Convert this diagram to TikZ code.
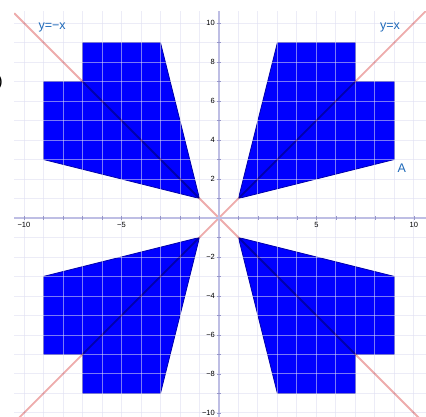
\documentclass[tikz,border=0pt]{standalone}
\usepackage{fontspec}
\setmainfont{Liberation Sans}
\definecolor{gridc}{RGB}{222,222,242}
\definecolor{axisc}{RGB}{190,190,228}
\definecolor{tickc}{RGB}{150,150,200}
\definecolor{labc}{RGB}{30,105,185}
\definecolor{diagc}{RGB}{238,172,172}
\definecolor{fillc}{RGB}{0,0,255}
\definecolor{edgec}{RGB}{0,0,170}
\begin{document}
\begin{tikzpicture}[x=19.5pt,y=19.5pt,
  region/.style={fill=fillc,draw=edgec,line width=0.8pt,line join=miter},
  gridline/.style={draw=gridc,line width=0.9pt,opacity=0.55},
  diagline/.style={draw=diagc,line width=1.8pt,blend mode=multiply},
  axisline/.style={draw=axisc,line width=1.6pt},
  ticklab/.style={font=\fontsize{7.5}{9}\selectfont,inner sep=1pt},
  eqlab/.style={font=\fontsize{12.5}{14}\selectfont,text=labc,inner sep=1pt}]
\useasboundingbox (-11.23,-10.2) rectangle (10.62,11.18);
\fill[white] (-11.23,-10.2) rectangle (10.62,11.18);
% regions
\draw[region] (1,1) -- (3,9) -- (7,9) -- (7,7) -- (9,7) -- (9,3) -- cycle;
\draw[region] (-1,1) -- (-3,9) -- (-7,9) -- (-7,7) -- (-9,7) -- (-9,3) -- cycle;
\draw[region] (-1,-1) -- (-3,-9) -- (-7,-9) -- (-7,-7) -- (-9,-7) -- (-9,-3) -- cycle;
\draw[region] (1,-1) -- (3,-9) -- (7,-9) -- (7,-7) -- (9,-7) -- (9,-3) -- cycle;
% grid
\begin{scope}
\clip (-10.5,-10.2) rectangle (10.62,10.6);
\foreach \k in {-10,...,10} {
  \draw[gridline] (\k,-10.2) -- (\k,10.6);
  \draw[gridline] (-10.5,\k) -- (10.62,\k);
}
\draw[diagline] (-10.5,-10.5) -- (10.62,10.62);
\draw[diagline] (-10.5,10.5) -- (10.62,-10.62);
\end{scope}
% axes
\draw[axisline] (-10.5,0) -- (10.62,0);
\draw[axisline] (0,-10.2) -- (0,10.6);
\foreach \k in {-10,...,-1,1,2,...,10} {
  \draw[tickc,line width=0.8pt] (\k,-0.08) -- (\k,0.08);
  \draw[tickc,line width=0.8pt] (-0.08,\k) -- (0.08,\k);
}
% tick labels
\node[ticklab,below] (xm10) at (-10,-0.15) {−10};
\node[ticklab,below] (xm5) at (-5,-0.15) {−5};
\node[ticklab,below] (x5) at (5,-0.15) {5};
\node[ticklab,below] (x10) at (10,-0.15) {10};
\foreach \k in {10,8,6,4,2} {
  \node[ticklab,left] (yp\k) at (-0.15,\k) {\k};
  \node[ticklab,left] (ym\k) at (-0.15,-\k) {−\k};
}
% labels
\node[eqlab] (lneg) at (-8.56,9.75) {y=−x};
\node[eqlab] (lpos) at (8.77,9.75) {y=x};
\node[eqlab] (lA) at (9.38,2.55) {A};
\node[font=\fontsize{16}{18}\selectfont,anchor=east,inner sep=0pt] (cut) at (-11.08,6.95) {)};
\end{tikzpicture}
\end{document}
